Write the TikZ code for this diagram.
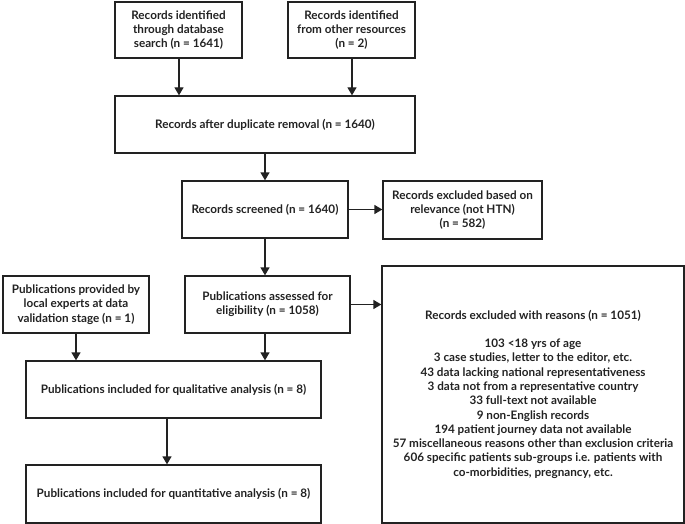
\documentclass[tikz,border=0pt]{standalone}
\usepackage{fontspec}
\setmainfont{Lato}
\usetikzlibrary{arrows.meta}
\definecolor{ink}{HTML}{222222}
\begin{document}
\begin{tikzpicture}[x=1pt,y=-1pt,
  box/.style={draw=ink, line width=1.3pt, align=center, inner sep=0pt, text=ink,
    font=\fontsize{11.7}{14.3}\selectfont\bfseries},
  arr/.style={draw=ink, line width=1.3pt, -{Triangle[length=8pt,width=9pt]}}]
\useasboundingbox (0,0) rectangle (685,524);
\node[box, minimum width=127pt, minimum height=56pt] (A) at (178.5,30) {Records identified\\through database\\search (n = 1641)};
\node[box, minimum width=127pt, minimum height=56pt] (B) at (351.5,30) {Records identified\\from other resources\\(n = 2)};
\node[box, minimum width=300pt, minimum height=57pt] (C) at (265,124.5) {Records after duplicate removal (n = 1640)};
\node[box, minimum width=166pt, minimum height=57pt] (D) at (265,209.5) {Records screened (n = 1640)};
\node[box, minimum width=159pt, minimum height=58pt] (R1) at (462.5,210) {Records excluded based on\\relevance (not HTN)\\(n = 582)};
\node[box, minimum width=146pt, minimum height=57pt] (E) at (76,304.5) {Publications provided by\\local experts at data\\validation stage (n = 1)};
\node[box, minimum width=165pt, minimum height=57pt] (F) at (267.5,304.5) {Publications assessed for\\eligibility (n = 1058)};
\node[box, minimum width=302pt, minimum height=257pt] (R2) at (533,394.5) {Records excluded with reasons (n = 1051)\\[13.5pt]
103 <18 yrs of age\\
3 case studies, letter to the editor, etc.\\
43 data lacking national representativeness\\
3 data not from a representative country\\
33 full-text not available\\
9 non-English records\\
194 patient journey data not available\\
57 miscellaneous reasons other than exclusion criteria\\
606 specific patients sub-groups i.e. patients with\\
co-morbidities, pregnancy, etc.};
\node[box, minimum width=295pt, minimum height=57pt] (G) at (173.5,389.5) {Publications included for qualitative analysis (n = 8)};
\node[box, minimum width=295pt, minimum height=58pt] (H) at (173.5,494) {Publications included for quantitative analysis (n = 8)};
\draw[arr] ([xshift=0.5pt]A.south) -- ([xshift=0.5pt]A.south |- C.north);
\draw[arr] ([xshift=0.5pt]B.south) -- ([xshift=0.5pt]B.south |- C.north);
\draw[arr] (C.south) -- (D.north);
\draw[arr] (D.east) -- (D.east -| R1.west);
\draw[arr] (D.south) -- (D.south |- F.north);
\draw[arr] (F.east) -- (F.east -| R2.west);
\draw[arr] (E.south) -- (E.south |- G.north);
\draw[arr] ([xshift=-2.5pt]F.south) -- ([xshift=-2.5pt]F.south |- G.north);
\draw[arr] ([xshift=-6.5pt]G.south) -- ([xshift=-6.5pt]H.north);
\end{tikzpicture}
\end{document}
